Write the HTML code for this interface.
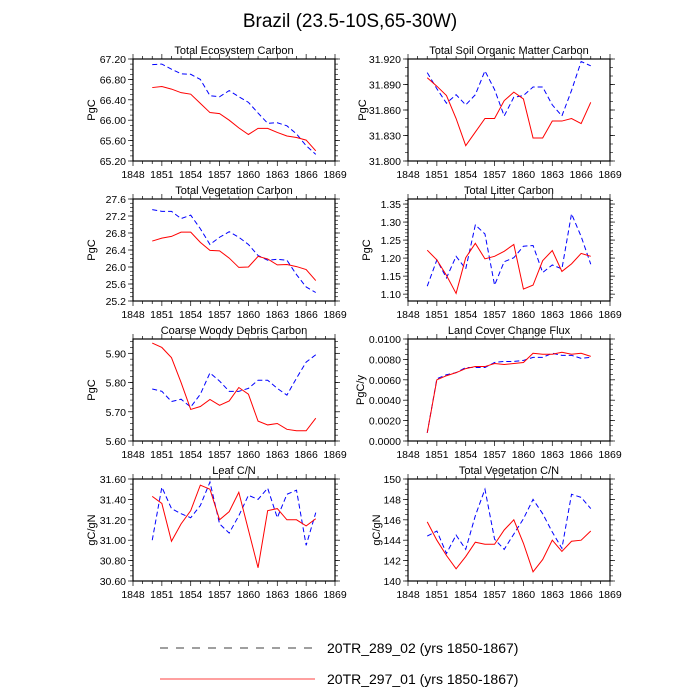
<!DOCTYPE html>
<html><head><meta charset="utf-8"><style>
body{margin:0;background:#fff}
svg{display:block;font-family:"Liberation Sans",sans-serif}
</style></head><body>
<svg id="c" width="700" height="700" viewBox="0 0 700 700">
<text x="350" y="27" font-size="19" text-anchor="middle">Brazil (23.5-10S,65-30W)</text>
<g>
<line x1="160" y1="648" x2="315" y2="648" stroke="#000" stroke-width="0.8" stroke-dasharray="8,8"/>
<text x="327" y="653" font-size="14">20TR_289_02 (yrs 1850-1867)</text>
<line x1="160" y1="679" x2="315" y2="679" stroke="#ff0000" stroke-width="0.8"/>
<text x="327" y="684" font-size="14">20TR_297_01 (yrs 1850-1867)</text>
</g>
</svg>
<script>
const years=[1850,1851,1852,1853,1854,1855,1856,1857,1858,1859,1860,1861,1862,1863,1864,1865,1866,1867];
const xTicks=[1848,1851,1854,1857,1860,1863,1866,1869];
const tecRed=[66.64,66.66,66.61,66.54,66.51,66.33,66.15,66.13,66.00,65.85,65.72,65.84,65.84,65.76,65.69,65.66,65.61,65.40];
const tecBlue=[67.09,67.10,67.00,66.91,66.90,66.80,66.48,66.46,66.58,66.46,66.35,66.14,65.94,65.95,65.89,65.73,65.50,65.33];
const tecTicks=[65.2,65.6,66.0,66.4,66.8,67.2];
const tvcRed=[26.61,26.68,26.72,26.82,26.82,26.58,26.39,26.38,26.21,25.99,26.00,26.25,26.19,26.05,26.06,26.01,25.94,25.68];
const tvcBlue=[27.35,27.31,27.31,27.14,27.22,26.90,26.53,26.70,26.83,26.70,26.53,26.27,26.16,26.18,26.16,25.82,25.53,25.40];
const tvcTicks=[25.2,25.6,26.0,26.4,26.8,27.2,27.6];
const somRed=[31.898,31.888,31.877,31.850,31.818,31.834,31.850,31.850,31.871,31.881,31.873,31.827,31.827,31.847,31.847,31.850,31.844,31.869];
const somBlue=[31.904,31.885,31.868,31.878,31.866,31.878,31.906,31.884,31.853,31.875,31.877,31.887,31.887,31.866,31.853,31.883,31.917,31.912];
const somTicks=[31.80,31.83,31.86,31.89,31.92];
const litRed=[1.222,1.195,1.152,1.102,1.201,1.241,1.198,1.205,1.219,1.238,1.114,1.125,1.193,1.221,1.163,1.184,1.213,1.205];
const litBlue=[1.122,1.195,1.145,1.205,1.170,1.292,1.267,1.125,1.190,1.201,1.233,1.235,1.160,1.181,1.170,1.323,1.260,1.183];
const litTicks=[1.10,1.15,1.20,1.25,1.30,1.35];
const litRange=[1.081,1.364];
const cwdRed=[5.935,5.92,5.885,5.80,5.708,5.718,5.742,5.722,5.737,5.783,5.76,5.668,5.655,5.66,5.64,5.635,5.635,5.678];
const cwdBlue=[5.778,5.77,5.735,5.743,5.716,5.76,5.833,5.805,5.77,5.77,5.78,5.808,5.808,5.78,5.757,5.815,5.87,5.895];
const cwdTicks=[5.6,5.7,5.8,5.9];
const cwdRange=[5.60,5.949];
const lccRed=[0.0008,0.0060,0.0064,0.0067,0.0071,0.0073,0.0073,0.0076,0.0075,0.0076,0.0077,0.0086,0.0085,0.0085,0.0087,0.0085,0.0086,0.0083];
const lccBlue=[0.0008,0.0061,0.0065,0.0067,0.0072,0.0072,0.0072,0.0077,0.0078,0.0078,0.0079,0.0082,0.0082,0.0086,0.0084,0.0084,0.0081,0.0082];
const lccTicks=[0,0.002,0.004,0.006,0.008,0.010];
const leafRed=[31.43,31.36,30.99,31.16,31.29,31.54,31.50,31.20,31.28,31.47,31.10,30.73,31.29,31.31,31.20,31.20,31.14,31.21];
const leafBlue=[31.00,31.52,31.31,31.26,31.22,31.34,31.57,31.16,31.07,31.24,31.44,31.40,31.51,31.22,31.45,31.49,30.95,31.27];
const leafTicks=[30.6,30.8,31.0,31.2,31.4,31.6];
const vcnRed=[145.8,144.0,142.5,141.2,142.4,143.8,143.6,143.6,145.0,146.0,143.7,140.9,142.1,144.0,142.9,143.9,144.0,144.9];
const vcnBlue=[144.4,144.9,142.7,144.5,143.1,146.4,149.0,144.1,143.1,144.6,146.1,148.0,146.6,144.8,143.2,148.5,148.2,147.1];
const vcnTicks=[140,142,144,146,148,150];

const NS="http://www.w3.org/2000/svg";
const svg=document.getElementById('c');
function mk(t,a,p){const e=document.createElementNS(NS,t);for(const k in a)e.setAttribute(k,a[k]);(p||svg).appendChild(e);return e;}
const panels=[
 {id:'total-ecosystem-carbon',title:'Total Ecosystem Carbon',yl:'PgC',red:tecRed,blue:tecBlue,ticks:tecTicks,dec:2,minor:4,x:133,y:59},
 {id:'total-soil-organic-matter-carbon',title:'Total Soil Organic Matter Carbon',yl:'PgC',red:somRed,blue:somBlue,ticks:somTicks,dec:3,minor:3,x:408,y:59},
 {id:'total-vegetation-carbon',title:'Total Vegetation Carbon',yl:'PgC',red:tvcRed,blue:tvcBlue,ticks:tvcTicks,dec:1,minor:4,x:133,y:199},
 {id:'total-litter-carbon',title:'Total Litter Carbon',yl:'PgC',red:litRed,blue:litBlue,ticks:litTicks,range:litRange,dec:2,minor:5,x:408,y:199},
 {id:'coarse-woody-debris-carbon',title:'Coarse Woody Debris Carbon',yl:'PgC',red:cwdRed,blue:cwdBlue,ticks:cwdTicks,range:cwdRange,dec:2,minor:5,x:133,y:339},
 {id:'land-cover-change-flux',title:'Land Cover Change Flux',yl:'PgC/y',red:lccRed,blue:lccBlue,ticks:lccTicks,dec:4,minor:4,x:408,y:339},
 {id:'leaf-cn',title:'Leaf C/N',yl:'gC/gN',red:leafRed,blue:leafBlue,ticks:leafTicks,dec:2,minor:4,x:133,y:479},
 {id:'total-vegetation-cn',title:'Total Vegetation C/N',yl:'gC/gN',red:vcnRed,blue:vcnBlue,ticks:vcnTicks,dec:0,minor:4,x:408,y:479}
];
const W=202,H=102;
panels.forEach(p=>{
 const g=mk('g',{});
 
 
 const x0=xTicks[0],x1=xTicks[xTicks.length-1];
 const y0=p.range?p.range[0]:p.ticks[0],y1=p.range?p.range[1]:p.ticks[p.ticks.length-1];
 const sx=v=>p.x+(v-x0)/(x1-x0)*W;
 const sy=v=>p.y+H-(v-y0)/(y1-y0)*H;
 const t=mk('text',{x:p.x+W/2,y:p.y-5,'font-size':11,'text-anchor':'middle'},g);t.textContent=p.title;
 
 
 for(let v=x0;v<=x1;v++){const X=sx(v),L=(v-x0)%3==0?5:3;
  mk('line',{x1:X,y1:p.y+H,x2:X,y2:p.y+H+L,stroke:'#000','stroke-width':0.7},g);
  mk('line',{x1:X,y1:p.y,x2:X,y2:p.y-L,stroke:'#000','stroke-width':0.7},g);}
 xTicks.forEach(v=>{const tt=mk('text',{x:sx(v),y:p.y+H+17,'font-size':10.5,'text-anchor':'middle'},g);tt.textContent=v;
  
  });
 const step=p.ticks[1]-p.ticks[0],st=step/p.minor;
 for(let v=p.ticks[0]-step;v<=y1+1e-9;v+=st){
  if(v<y0-1e-9)continue;const YY=sy(v);
  mk('line',{x1:p.x,y1:YY,x2:p.x-3,y2:YY,stroke:'#000','stroke-width':0.6},g);
  mk('line',{x1:p.x+W,y1:YY,x2:p.x+W+3,y2:YY,stroke:'#000','stroke-width':0.6},g);}
 for(let i=0;i<p.ticks.length;i++){
  const v=p.ticks[i],Y=sy(v);
  mk('line',{x1:p.x,y1:Y,x2:p.x-5,y2:Y,stroke:'#000','stroke-width':0.7},g);
  mk('line',{x1:p.x+W,y1:Y,x2:p.x+W+5,y2:Y,stroke:'#000','stroke-width':0.7},g);
  const tl=mk('text',{x:p.x-7,y:Y+4,'font-size':10.5,'text-anchor':'end'},g);tl.textContent=v.toFixed(p.dec);
  
  
 }
 const yx=p.x-(p.dec==4?44:p.dec==3?42:p.dec==0?28:38);
 const yl=mk('text',{x:yx,y:p.y+H/2,'font-size':11,'text-anchor':'middle',transform:`rotate(-90 ${yx} ${p.y+H/2})`},g);yl.textContent=p.yl;
 
 
 const b=mk('polyline',{points:years.map((yr,i)=>sx(yr)+','+sy(p.blue[i])).join(' '),fill:'none',stroke:'#0000ff','stroke-width':1,'stroke-dasharray':'5,3'},g);
 
 
 const r=mk('polyline',{points:years.map((yr,i)=>sx(yr)+','+sy(p.red[i])).join(' '),fill:'none',stroke:'#ff0000','stroke-width':1},g);
 
 
 const fr=mk('rect',{x:p.x,y:p.y,width:W,height:H,fill:'none',stroke:'#000','stroke-width':1.2},g);
 
 
});
</script>
</body></html>
